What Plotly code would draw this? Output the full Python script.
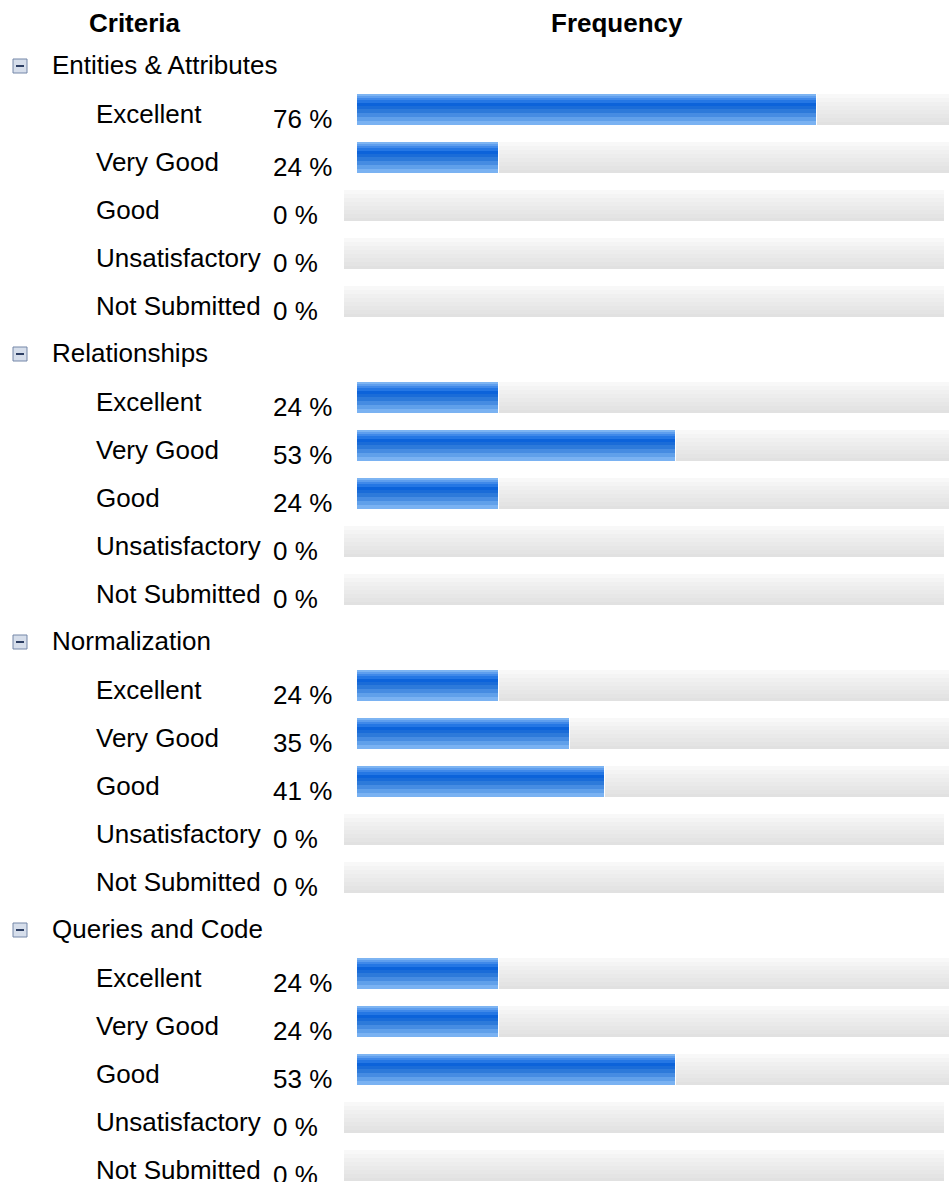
import plotly.graph_objects as go

# ---- data ----
groups = ["Entities & Attributes", "Relationships", "Normalization", "Queries and Code"]
ratings = ["Excellent", "Very Good", "Good", "Unsatisfactory", "Not Submitted"]
pct_entities = [76.5, 23.5, 0, 0, 0]
pct_relationships = [23.5, 53.0, 23.5, 0, 0]
pct_normalization = [23.5, 35.3, 41.2, 0, 0]
pct_queries = [23.5, 23.5, 53.0, 0, 0]
pct_labels_entities = ["76 %", "24 %", "0 %", "0 %", "0 %"]
pct_labels_relationships = ["24 %", "53 %", "24 %", "0 %", "0 %"]
pct_labels_normalization = ["24 %", "35 %", "41 %", "0 %", "0 %"]
pct_labels_queries = ["24 %", "24 %", "53 %", "0 %", "0 %"]
header_criteria = "Criteria"
header_frequency = "Frequency"

values = [pct_entities, pct_relationships, pct_normalization, pct_queries]
labels = [pct_labels_entities, pct_labels_relationships, pct_labels_normalization, pct_labels_queries]

# ---- layout constants (pixels) ----
W, H = 949, 1182
ROW = 48.0            # row pitch
R0 = 61.5             # pixel centre of row 0
BAR_H = 31.0
X0 = 357.0            # pixel of 0 %
PX_PER_PCT = 6.0      # 600 px == 100 %
ZERO_SHIFT = 13.0     # empty rows are drawn 13 px further left
GAP = 1.0
PAD = 3.0             # annotation inner padding
FONT = "Liberation Sans, Arial, sans-serif"
FS = 26

def px2x(p):
    return (p - X0) / PX_PER_PCT

rows, vals = [], []
for gi, g in enumerate(groups):
    for ri, r in enumerate(ratings):
        rows.append(gi * 6 + ri + 1)
        vals.append(values[gi][ri])

fig = go.Figure()

# gray background (gradient stripes)
gray_stripes = [(0, 4, "#f8f8f8"), (4, 8, "#f4f4f4"), (8, 12, "#f0f0f0"), (12, 16, "#ededed"),
                (16, 20, "#eaeaea"), (20, 24, "#e7e7e7"), (24, 28, "#e4e4e4"), (28, 31, "#e1e1e1")]
g_base, g_len = [], []
for v in vals:
    if v > 0:
        b = v + GAP / PX_PER_PCT
        g_base.append(b)
        g_len.append(100 - b)
    else:
        b = -ZERO_SHIFT / PX_PER_PCT
        g_base.append(b)
        g_len.append(100)
for t0, t1, c in gray_stripes:
    fig.add_trace(go.Bar(orientation="h", y=rows, x=g_len, base=g_base,
                         width=(t1 - t0) / ROW, offset=(t0 - BAR_H / 2) / ROW,
                         marker=dict(color=c, line=dict(width=0)),
                         hoverinfo="skip", showlegend=False))

# blue bars (gradient stripes)
blue_stripes = [(0, 2, "#7db4f2"), (2, 4, "#5e9eee"), (4, 6, "#4089e9"), (6, 9, "#2577e4"),
                (9, 12, "#0c63da"), (12, 15, "#1a6cd8"), (15, 19, "#2d7ada"), (19, 23, "#468ce2"),
                (23, 27, "#60a0ea"), (27, 31, "#7ab2f2")]
b_rows = [r for r, v in zip(rows, vals) if v > 0]
b_vals = [v for v in vals if v > 0]
for t0, t1, c in blue_stripes:
    fig.add_trace(go.Bar(orientation="h", y=b_rows, x=b_vals, base=0,
                         width=(t1 - t0) / ROW, offset=(t0 - BAR_H / 2) / ROW,
                         marker=dict(color=c, line=dict(width=0)),
                         hoverinfo="skip", showlegend=False))

ann = []
def txt(x_px, row, dy, s, bold=False, anchor="left"):
    xp = x_px - PAD if anchor == "left" else x_px
    ann.append(dict(xref="paper", yref="y", x=xp / W, y=row, yshift=-dy,
                    xanchor=anchor, yanchor="middle", showarrow=False,
                    text=f"<b>{s}</b>" if bold else s,
                    font=dict(family=FONT, size=FS, color="#000")))

txt(135, (22.7 - R0) / ROW, 0, header_criteria, bold=True, anchor="center")
txt(617, (22.7 - R0) / ROW, 0, header_frequency, bold=True, anchor="center")

shapes = []
for gi, g in enumerate(groups):
    r = gi * 6
    txt(53, r, 3.2, g)
    # collapse icon
    shapes.append(dict(type="rect", xref="paper", yref="y",
                       x0=13 / W, x1=27 / W, y0=r + (59 - R0) / ROW, y1=r + (73 - R0) / ROW,
                       fillcolor="#d6deeb", line=dict(color="#7587a8", width=1)))
    shapes.append(dict(type="line", xref="paper", yref="y",
                       x0=16 / W, x1=24 / W, y0=r + (66 - R0) / ROW, y1=r + (66 - R0) / ROW,
                       line=dict(color="#2c3e63", width=2)))
    for ri, rt in enumerate(ratings):
        rr = gi * 6 + ri + 1
        txt(97, rr, 4.2, rt)
        txt(274, rr, 9.2, labels[gi][ri])

fig.update_layout(
    width=W, height=H, margin=dict(l=0, r=0, t=0, b=0),
    paper_bgcolor="white", plot_bgcolor="white",
    barmode="overlay", bargap=0,
    xaxis=dict(range=[px2x(0), px2x(W)], visible=False, fixedrange=True),
    yaxis=dict(range=[(H - R0) / ROW, (0 - R0) / ROW], visible=False, fixedrange=True),
    annotations=ann, shapes=shapes,
)

fig.write_html("out.html")
